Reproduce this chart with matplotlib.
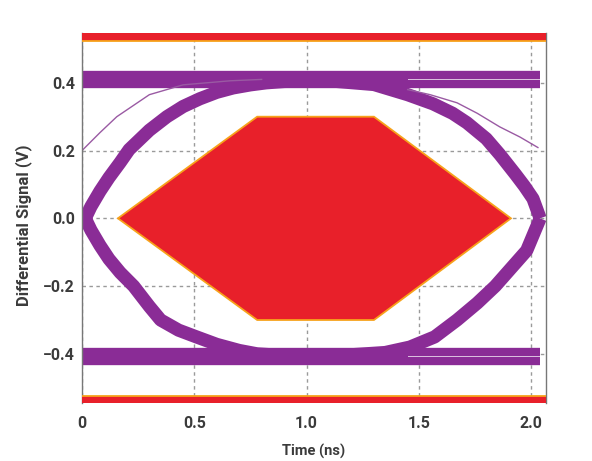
import numpy as np
import matplotlib.pyplot as plt
from matplotlib.patches import Polygon

plt.rcParams['font.family'] = ['Roboto', 'DejaVu Sans']

# eye diagram traces (time in ns, signal in V)
rise_left_t = [0.0, 0.04, 0.08, 0.12, 0.17, 0.21, 0.30, 0.378, 0.45, 0.525, 0.60, 0.673, 0.75, 0.82, 0.90, 1.0]
rise_left_v = [-0.02, 0.035, 0.08, 0.12, 0.165, 0.203, 0.26, 0.30, 0.33, 0.353, 0.372, 0.385, 0.394, 0.40, 0.404, 0.406]

fall_left_t = [0.0, 0.04, 0.08, 0.12, 0.17, 0.23, 0.30, 0.35, 0.43, 0.51, 0.60, 0.70, 0.78, 0.90, 1.0]
fall_left_v = [0.02, -0.035, -0.08, -0.12, -0.16, -0.20, -0.26, -0.30, -0.33, -0.35, -0.372, -0.39, -0.40, -0.405, -0.407]

fall_right_t = [1.1, 1.3, 1.45, 1.563, 1.65, 1.714, 1.80, 1.861, 1.93, 1.97, 2.008, 2.04]
fall_right_v = [0.406, 0.395, 0.365, 0.338, 0.31, 0.282, 0.235, 0.188, 0.13, 0.095, 0.058, 0.0]

rise_right_t = [1.1, 1.35, 1.46, 1.57, 1.67, 1.76, 1.84, 1.92, 1.98, 2.04]
rise_right_v = [-0.407, -0.396, -0.38, -0.35, -0.30, -0.25, -0.20, -0.14, -0.095, 0.0]

rail_t = [0.0, 2.04]
upper_levels = [0.422, 0.397]
lower_levels = [-0.394, -0.421]
mid_rail_t = [0.0, 1.45]
upper_mid = 0.41
lower_mid = -0.408

thin_left_t = [0.0, 0.08, 0.155, 0.30, 0.45, 0.66, 0.8]
thin_left_v = [0.2, 0.253, 0.30, 0.365, 0.394, 0.406, 0.41]
thin_right_t = [1.45, 1.55, 1.67, 1.76, 1.86, 1.95, 2.03]
thin_right_v = [0.38, 0.365, 0.341, 0.31, 0.27, 0.24, 0.209]

# eye mask
mask_t = [0.16, 0.78, 1.30, 1.91, 1.30, 0.78]
mask_v = [0.0, 0.30, 0.30, 0.0, -0.30, -0.30]
top_mask = [0.524, 0.56]
bottom_mask = [-0.56, -0.524]

xticks = [0, 0.5, 1.0, 1.5, 2.0]
xticklabels = ['0', '0.5', '1.0', '1.5', '2.0']
yticks = [-0.4, -0.2, 0.0, 0.2, 0.4]
yticklabels = ['\u22120.4', '\u22120.2', '0.0', '0.2', '0.4']

purple = '#8a2c96'
red = '#e8202a'
edge = '#f7a21b'
txt = '#3b3b3b'

fig = plt.figure(figsize=(5.92, 4.61), dpi=100)
ax = fig.add_axes([0.1385, 0.1258, 0.7838, 0.8026])

ax.grid(True, color='#9a9a9a', linestyle=(0, (2.5, 2.5)), linewidth=1.0, zorder=0)
ax.set_axisbelow(True)

lw_edge = 9.5
for t, v in [(rise_left_t, rise_left_v), (fall_left_t, fall_left_v),
             (fall_right_t, fall_right_v), (rise_right_t, rise_right_v)]:
    ax.plot(t, v, color=purple, lw=lw_edge, solid_capstyle='butt',
            solid_joinstyle='round', zorder=2)

for lv in upper_levels + lower_levels:
    ax.plot(rail_t, [lv, lv], color=purple, lw=6, solid_capstyle='butt', zorder=2)
for lv in [upper_mid, lower_mid]:
    ax.plot(mid_rail_t, [lv, lv], color=purple, lw=6, solid_capstyle='butt', zorder=2)

ax.plot(thin_left_t, thin_left_v, color='#9a5aa3', lw=1.0, zorder=2)
ax.plot(thin_right_t, thin_right_v, color='#9a5aa3', lw=1.0, zorder=2)

ax.add_patch(Polygon(np.column_stack([mask_t, mask_v]), closed=True,
                     facecolor=red, edgecolor=edge, lw=1.3, zorder=3))
ax.axhspan(top_mask[0], top_mask[1], facecolor=red, edgecolor='none', zorder=3)
ax.axhline(top_mask[0], color=edge, lw=1.3, zorder=3)
ax.axhspan(bottom_mask[0], bottom_mask[1], facecolor=red, edgecolor='none', zorder=3)
ax.axhline(bottom_mask[1], color=edge, lw=1.3, zorder=3)

ax.set_xlim(0, 2.066)
ax.set_ylim(-0.545, 0.547)
ax.set_xticks(xticks)
ax.set_xticklabels(xticklabels)
ax.set_yticks(yticks)
ax.set_yticklabels(yticklabels)
ax.tick_params(length=0, labelsize=11.5, labelcolor=txt, pad=5)
ax.tick_params(axis='x', pad=9)
for lab in ax.get_xticklabels() + ax.get_yticklabels():
    lab.set_fontweight('bold')

for s in ['top', 'bottom']:
    ax.spines[s].set_visible(False)
for s in ['left', 'right']:
    ax.spines[s].set_color('#777777')
    ax.spines[s].set_linewidth(1.0)

ax.set_xlabel('Time (ns)', fontsize=10.5, fontweight='bold', color=txt, labelpad=10)
ax.set_ylabel('Differential Signal (V)', fontsize=12, fontweight='bold', color=txt)
ax.yaxis.set_label_coords(-0.108, 0.48)

fig.savefig('out.png', dpi=100)
